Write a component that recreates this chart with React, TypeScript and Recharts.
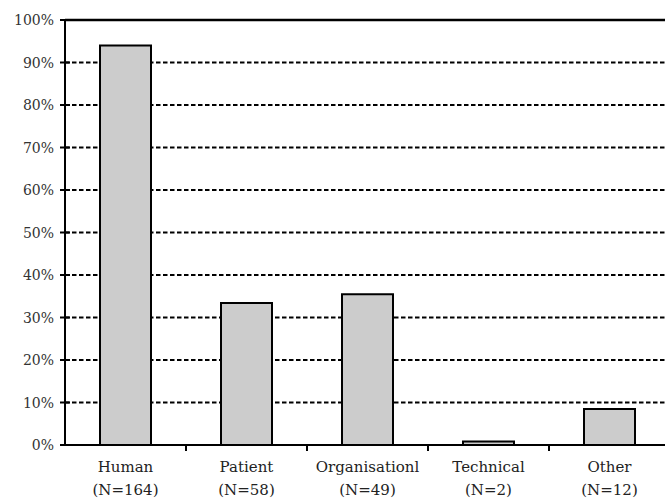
import React from 'react';
import { BarChart, Bar, XAxis, YAxis, CartesianGrid, ReferenceLine } from 'recharts';

// Values
const categories = ['Human', 'Patient', 'Organisationl', 'Technical', 'Other'];
const counts = ['(N=164)', '(N=58)', '(N=49)', '(N=2)', '(N=12)'];
const percents = [94, 33.4, 35.5, 0.8, 8.5];
const yTicks = [0, 10, 20, 30, 40, 50, 60, 70, 80, 90, 100];

const data = categories.map((name, i) => ({ name, n: counts[i], value: percents[i] }));

const W = 670;
const H = 501;
const LEFT = 65;
const TOP = 20;
const XH = 56;
const AXIS_Y = H - XH;
const BAND = (W - LEFT) / categories.length;
const FONT = '"DejaVu Serif", serif';

const XTick = (props: any) => {
  const { x, payload, index } = props;
  const left = x - BAND / 2;
  const right = x + BAND / 2;
  return (
    <g>
      {index > 0 && <line x1={left} x2={left} y1={AXIS_Y} y2={AXIS_Y + 6} stroke="#000" strokeWidth={2} />}
      <line x1={right} x2={right} y1={AXIS_Y} y2={AXIS_Y + 6} stroke="#000" strokeWidth={2} />
      <text x={x} y={AXIS_Y + 27} textAnchor="middle" fontFamily={FONT} fontSize={15} fill="#222">
        {payload.value}
      </text>
      <text x={x} y={AXIS_Y + 50} textAnchor="middle" fontFamily={FONT} fontSize={15} fill="#222">
        {counts[index]}
      </text>
    </g>
  );
};

const YTick = (props: any) => {
  const { y, payload } = props;
  return (
    <g>
      <line x1={LEFT - 5} x2={LEFT + 5} y1={y} y2={y} stroke="#000" strokeWidth={2} />
      <text x={LEFT - 11} y={y + 5} textAnchor="end" fontFamily={FONT} fontSize={14} fill="#333">
        {`${payload.value}%`}
      </text>
    </g>
  );
};

export default function App() {
  return (
    <div style={{ position: 'absolute', left: 0, top: 0, width: 665, height: H, overflow: 'hidden', background: '#fff' }}>
      <BarChart
        width={W}
        height={H}
        data={data}
        margin={{ top: TOP, right: 0, bottom: 0, left: 0 }}
        barCategoryGap={35}
      >
        <CartesianGrid vertical={false} stroke="#000" strokeWidth={2} strokeDasharray="4.5 2.5" />
        <XAxis
          dataKey="name"
          height={XH}
          axisLine={{ stroke: '#000', strokeWidth: 2 }}
          tickLine={false}
          tick={<XTick />}
          interval={0}
        />
        <YAxis
          width={LEFT}
          domain={[0, 100]}
          ticks={yTicks}
          axisLine={{ stroke: '#000', strokeWidth: 2 }}
          tickLine={false}
          tick={<YTick />}
          interval={0}
        />
        <ReferenceLine y={100} stroke="#000" strokeWidth={2.5} />
        <Bar dataKey="value" fill="#cccccc" stroke="#000" strokeWidth={2} isAnimationActive={false} />
      </BarChart>
    </div>
  );
}
